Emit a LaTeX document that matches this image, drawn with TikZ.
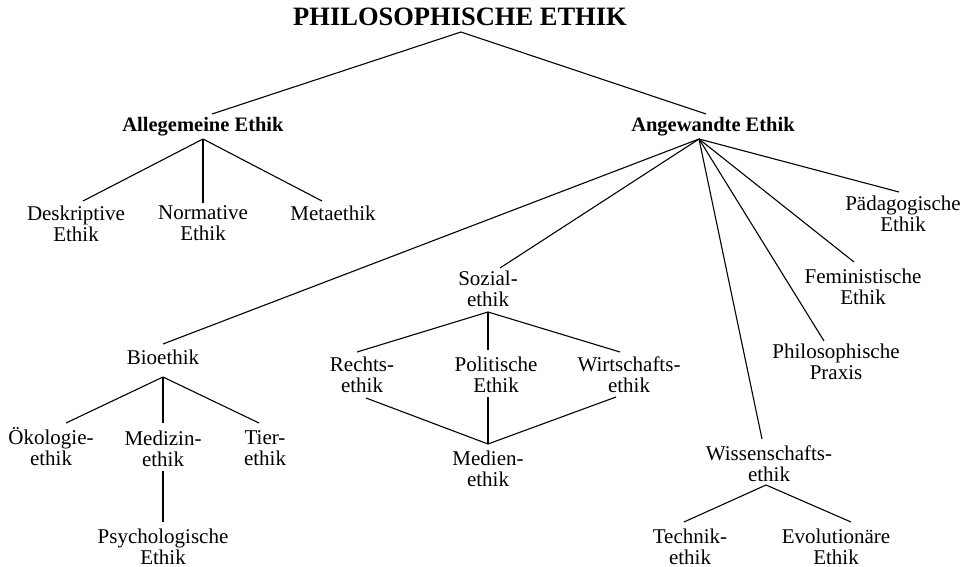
\documentclass[tikz,border=0pt]{standalone}
\usepackage{fontspec}
\setmainfont{Liberation Serif}

\begin{document}
\begin{tikzpicture}[x=1pt,y=-1pt,line width=1.1pt,
    main node/.style={inner sep=0pt,align=center,font=\fontsize{21}{21}\selectfont},
    head node/.style={inner sep=0pt,anchor=base,font=\bfseries\fontsize{20.5}{20.5}\selectfont},
    title node/.style={inner sep=0pt,anchor=base,font=\bfseries\fontsize{26.5}{26.5}\selectfont}]
    \useasboundingbox (0,0) rectangle (967,567);

    % texts
    \node[title node] (title) at (460,26) {PHILOSOPHISCHE ETHIK};
    \node[head node] (allg) at (203,132) {Allegemeine Ethik};
    \node[head node] (angew) at (713,132) {Angewandte Ethik};

    \node[main node] (desk) at (76,223.5) {Deskriptive\\Ethik};
    \node[main node] (norm) at (203,223.5) {Normative\\Ethik};
    \node[main node,anchor=base] (meta) at (333,220) {Metaethik};

    \node[main node,anchor=base] (bio) at (163,364) {Bioethik};
    \node[main node] (oeko) at (51,447) {Ökologie-\\ethik};
    \node[main node] (medizin) at (163,448.5) {Medizin-\\ethik};
    \node[main node] (tier) at (265,448.5) {Tier-\\ethik};
    \node[main node] (psy) at (163,547) {Psychologische\\Ethik};

    \node[main node] (sozial) at (488,288.5) {Sozial-\\ethik};
    \node[main node] (rechts) at (362,375) {Rechts-\\ethik};
    \node[main node] (polit) at (496,375) {Politische\\Ethik};
    \node[main node] (wirt) at (629,374.5) {Wirtschafts-\\ethik};
    \node[main node] (medien) at (488,468.5) {Medien-\\ethik};

    \node[main node] (wiss) at (769,463.5) {Wissenschafts-\\ethik};
    \node[main node] (technik) at (690,546.5) {Technik-\\ethik};
    \node[main node] (evo) at (836,546.5) {Evolutionäre\\Ethik};

    \node[main node] (praxis) at (836,361.5) {Philosophische\\Praxis};
    \node[main node] (femin) at (863,286.5) {Feministische\\Ethik};
    \node[main node] (paed) at (903,214) {Pädagogische\\Ethik};

    % connection points
    \coordinate (title-b) at (461,32);
    \coordinate (allg-t) at (212,114);
    \coordinate (angew-t) at (706,114);
    \coordinate (allg-b) at (203,139);
    \coordinate (desk-t) at (83,201);
    \coordinate (norm-t) at (203,203);
    \coordinate (meta-t) at (322,201);
    \coordinate (angew-b) at (699,139);
    \coordinate (bio-t) at (163,344);
    \coordinate (sozial-t) at (500,268);
    \coordinate (wiss-t) at (762,439);
    \coordinate (praxis-t) at (824,341);
    \coordinate (femin-t) at (854,262);
    \coordinate (paed-t) at (899,192);
    \coordinate (bio-b) at (163,377);
    \coordinate (oeko-t) at (66,423);
    \coordinate (medizin-t) at (163,423);
    \coordinate (tier-t) at (259,423);
    \coordinate (medizin-b) at (163,471);
    \coordinate (psy-t) at (163,522);
    \coordinate (sozial-b) at (488,312);
    \coordinate (rechts-t) at (357,352);
    \coordinate (polit-t) at (488,350);
    \coordinate (wirt-t) at (620,352);
    \coordinate (rechts-b) at (366,398);
    \coordinate (polit-b) at (488,397);
    \coordinate (wirt-b) at (616,397);
    \coordinate (medien-t) at (488,444);
    \coordinate (wiss-b) at (766,485);
    \coordinate (technik-t) at (684,522);
    \coordinate (evo-t) at (851,522);

    \path
        (title-b) edge (allg-t)
        (title-b) edge (angew-t)
        (allg-b) edge (desk-t)
        (allg-b) edge (norm-t)
        (allg-b) edge (meta-t)
        (angew-b) edge (bio-t)
        (angew-b) edge (sozial-t)
        (angew-b) edge (wiss-t)
        (angew-b) edge (praxis-t)
        (angew-b) edge (femin-t)
        (angew-b) edge (paed-t)
        (bio-b) edge (oeko-t)
        (bio-b) edge (medizin-t)
        (bio-b) edge (tier-t)
        (medizin-b) edge (psy-t)
        (sozial-b) edge (rechts-t)
        (sozial-b) edge (polit-t)
        (sozial-b) edge (wirt-t)
        (rechts-b) edge (medien-t)
        (polit-b) edge (medien-t)
        (wirt-b) edge (medien-t)
        (wiss-b) edge (technik-t)
        (wiss-b) edge (evo-t)
        ;
\end{tikzpicture}
\end{document}
